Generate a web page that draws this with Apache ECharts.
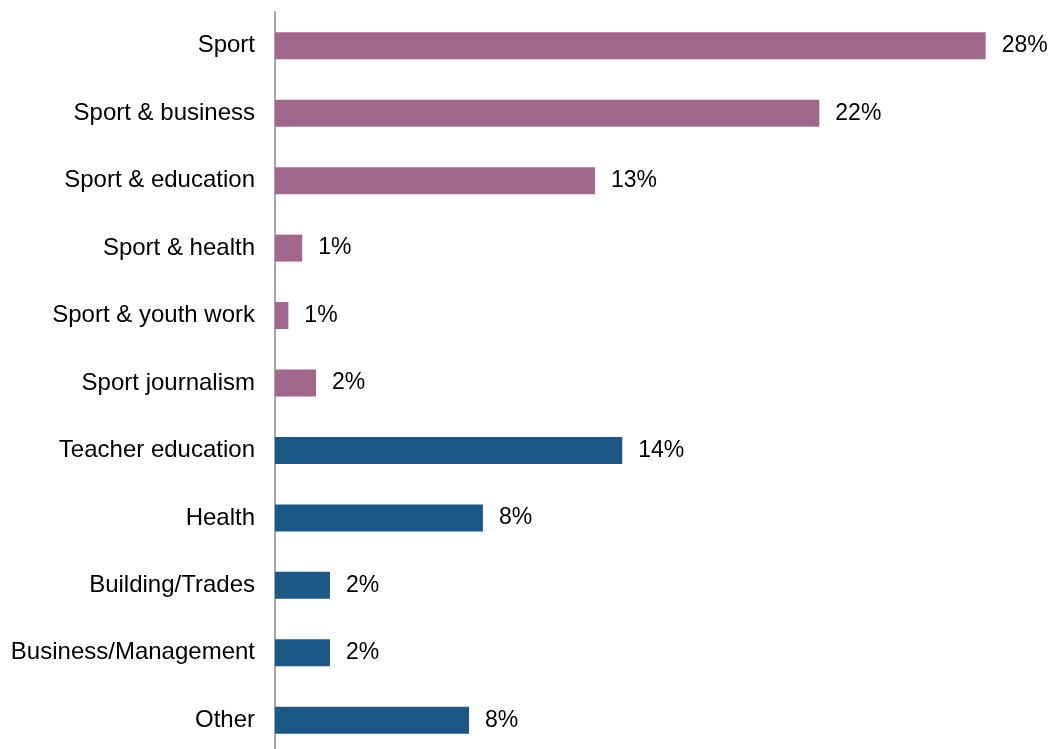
<!DOCTYPE html>
<html>
<head>
<meta charset="utf-8">
<script src="https://cdn.jsdelivr.net/npm/echarts@6/dist/echarts.min.js"></script>
<style>
  html, body { margin: 0; padding: 0; background: #ffffff; overflow: hidden; }
  /* the category band runs a few pixels past the bottom of the page */
  #chart { width: 1052px; height: 760px; }
</style>
</head>
<body>
<div id="chart"></div>
<script>
// Degree / field of study, share of respondents (%)
const categories = [
  'Sport', 'Sport & business', 'Sport & education', 'Sport & health',
  'Sport & youth work', 'Sport journalism', 'Teacher education', 'Health',
  'Building/Trades', 'Business/Management', 'Other'
];
const shares = [28.2, 21.6, 12.7, 1.08, 0.53, 1.63, 13.78, 8.25, 2.18, 2.18, 7.7];
// sport-related fields vs. other fields
const groups = ['sport', 'sport', 'sport', 'sport', 'sport', 'sport',
                'other', 'other', 'other', 'other', 'other'];
const groupColors = { sport: '#A1688C', other: '#1B5787' };

const chart = echarts.init(document.getElementById('chart'), null, { renderer: 'canvas' });

chart.setOption({
  animation: false,
  backgroundColor: '#ffffff',
  grid: { left: 275, top: 12, width: 756, height: 742, containLabel: false },
  xAxis: {
    type: 'value',
    min: 0,
    max: 30,
    show: false
  },
  yAxis: {
    type: 'category',
    data: categories,
    inverse: true,
    axisLine: { show: true, lineStyle: { color: '#A6A6A6', width: 2 } },
    axisTick: { show: false },
    splitLine: { show: false },
    axisLabel: {
      margin: 20,
      color: '#000000',
      fontFamily: 'Liberation Sans, Arial, sans-serif',
      fontSize: 24
    }
  },
  series: [{
    type: 'bar',
    barWidth: 27,
    data: shares.map((v, i) => ({
      value: v,
      itemStyle: { color: groupColors[groups[i]] }
    })),
    label: {
      show: true,
      position: 'right',
      distance: 16,
      color: '#000000',
      fontFamily: 'Liberation Sans, Arial, sans-serif',
      fontSize: 23,
      formatter: p => Math.round(p.value) + '%'
    }
  }]
});
</script>
</body>
</html>
